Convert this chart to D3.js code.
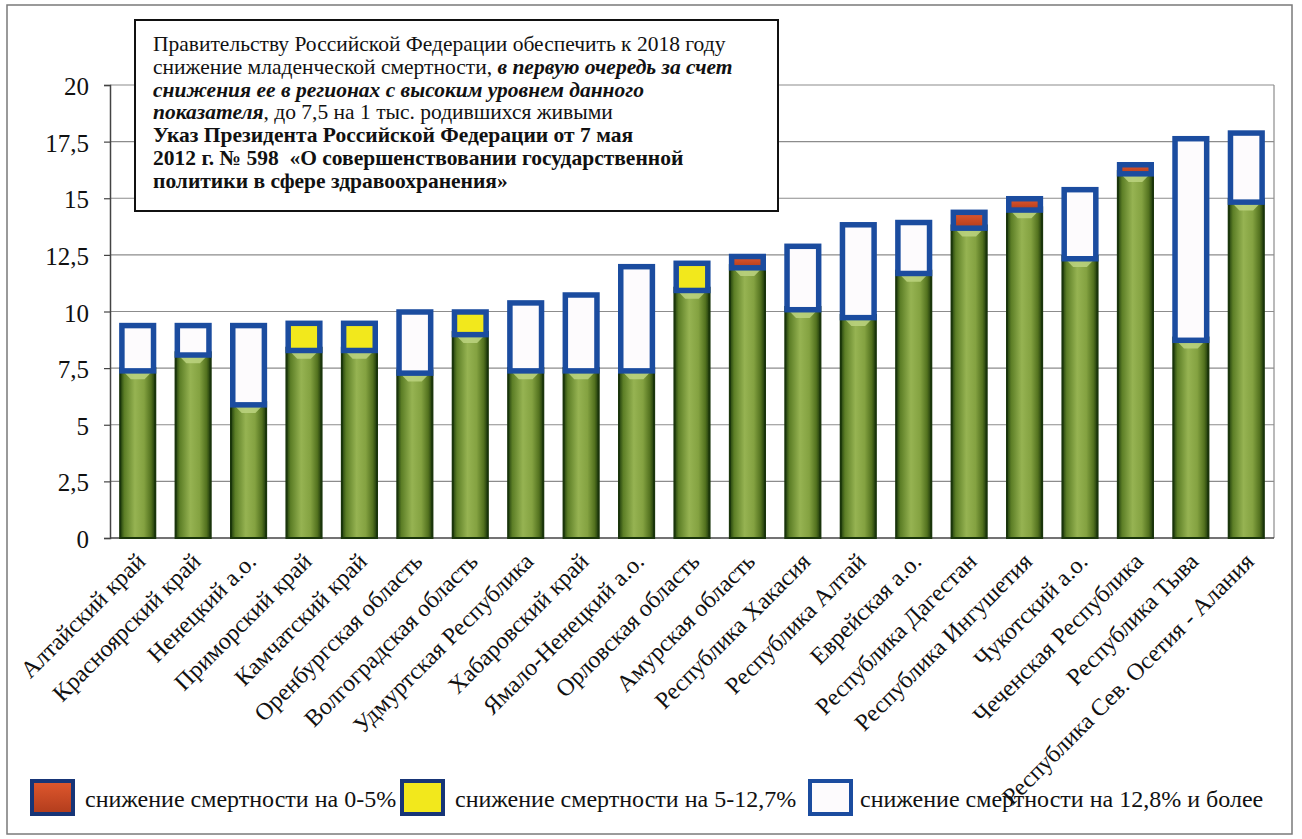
<!DOCTYPE html>
<html>
<head>
<meta charset="utf-8">
<script src="https://cdn.jsdelivr.net/npm/d3@7/dist/d3.min.js"></script>
<style>
  html, body { margin: 0; padding: 0; background: #ffffff; }
  svg { display: block; }
  svg text { font-family: "Liberation Serif", "Times New Roman", "DejaVu Serif", serif; fill: #111; }
</style>
</head>
<body>
<svg id="chart" width="1302" height="839"></svg>
<script>
// ---------------- DATA ----------------
const categories = [
  "Алтайский край", "Красноярский край", "Ненецкий а.о.", "Приморский край",
  "Камчатский край", "Оренбургская область", "Волгоградская область",
  "Удмуртская Республика", "Хабаровский край", "Ямало-Ненецкий а.о.",
  "Орловская область", "Амурская область", "Республика Хакасия",
  "Республика Алтай", "Еврейская а.о.", "Республика Дагестан",
  "Республика Ингушетия", "Чукотский а.о.", "Чеченская Республика",
  "Республика Тыва", "Республика Сев. Осетия - Алания"
];
// target level (green part of the bar)
const targetValues = [7.5, 8.2, 6.0, 8.4, 8.4, 7.4, 9.1, 7.5, 7.5, 7.5,
  11.05, 12.05, 10.2, 9.85, 11.8, 13.8, 14.6, 12.45, 16.2, 8.85, 14.95];
// current level (top of the bar)
const currentValues = [9.5, 9.5, 9.5, 9.6, 9.6, 10.1, 10.1, 10.5, 10.85, 12.1,
  12.25, 12.55, 13.0, 13.95, 14.05, 14.5, 15.1, 15.5, 16.6, 17.75, 18.0];
// reduction group of the top part
const reductionGroup = ["high", "high", "high", "mid", "mid", "high", "mid", "high", "high", "high",
  "mid", "low", "high", "high", "high", "low", "low", "high", "low", "high", "high"];

const yTickValues = [0, 2.5, 5, 7.5, 10, 12.5, 15, 17.5, 20];
const yTickLabels = ["0", "2,5", "5", "7,5", "10", "12,5", "15", "17,5", "20"];

const legendKeys = ["low", "mid", "high"];
const legendLabels = [
  "снижение смертности на 0-5%",
  "снижение смертности на 5-12,7%",
  "снижение смертности на 12,8% и более"
];

// annotation lines: runs of [text, style]  (n = normal, bi = bold italic, b = bold)
const noteLines = [
  [["Правительству Российской Федерации обеспечить к 2018 году", "n"]],
  [["снижение младенческой смертности, ", "n"], ["в первую очередь за счет", "bi"]],
  [["снижения ее в регионах с высоким уровнем данного", "bi"]],
  [["показателя", "bi"], [", до 7,5 на 1 тыс. родившихся живыми", "n"]],
  [["Указ Президента Российской Федерации от 7 мая", "b"]],
  [["2012 г. № 598\u00a0 «О совершенствовании государственной", "b"]],
  [["политики в сфере здравоохранения»", "b"]]
];

// ---------------- DRAW ----------------
const svg = d3.select("#chart");

const plot = { left: 110, right: 1274, top: 85, bottom: 538 };

const x = d3.scaleBand().domain(categories)
  .range([plot.left, plot.right]).paddingInner(0.33).paddingOuter(0.165);
const y = d3.scaleLinear().domain([0, 20]).range([plot.bottom, plot.top]);

const fillFor = { low: "url(#redFill)", mid: "#f2e81c", high: "#fdfbfd" };

// defs
const defs = svg.append("defs");
const g1 = defs.append("linearGradient").attr("id", "greenFill")
  .attr("x1", "0%").attr("x2", "100%").attr("y1", "0%").attr("y2", "0%");
[[0, "#1f3d0c"], [0.12, "#5c7e26"], [0.42, "#96b352"], [0.68, "#84a241"], [0.88, "#53721f"], [1, "#1b360a"]]
  .forEach(s => g1.append("stop").attr("offset", s[0]).attr("stop-color", s[1]));
const g2 = defs.append("linearGradient").attr("id", "redFill")
  .attr("x1", "0%").attr("x2", "0%").attr("y1", "0%").attr("y2", "100%");
[[0, "#e0582e"], [1, "#b13c1c"]]
  .forEach(s => g2.append("stop").attr("offset", s[0]).attr("stop-color", s[1]));

// outer frame
svg.append("rect").attr("x", 7).attr("y", 5).attr("width", 1285).attr("height", 829)
  .attr("fill", "#ffffff").attr("stroke", "#7a7a7a").attr("stroke-width", 1.5);

// gridlines
svg.append("g").selectAll("line").data(yTickValues.slice(1)).join("line")
  .attr("x1", plot.left).attr("x2", plot.right)
  .attr("y1", d => y(d)).attr("y2", d => y(d))
  .attr("stroke", "#8c8c8c").attr("stroke-width", 1.2);
// right border of the plot area
svg.append("line").attr("x1", plot.right).attr("x2", plot.right)
  .attr("y1", plot.top).attr("y2", plot.bottom)
  .attr("stroke", "#8c8c8c").attr("stroke-width", 1.2);

// y axis
const yAxis = d3.axisLeft(y).tickValues(yTickValues)
  .tickFormat((d, i) => yTickLabels[i]).tickSize(6).tickPadding(15);
const ya = svg.append("g").attr("transform", `translate(${plot.left},0)`).call(yAxis);
ya.attr("font-family", null).attr("font-size", null);
ya.select(".domain").attr("stroke", "#444").attr("stroke-width", 1.5);
ya.selectAll(".tick line").attr("stroke", "#444").attr("stroke-width", 1.2);
ya.selectAll(".tick text").attr("font-size", 25).attr("dy", "0.38em");

// x axis baseline
svg.append("line").attr("x1", plot.left).attr("x2", plot.right)
  .attr("y1", plot.bottom).attr("y2", plot.bottom)
  .attr("stroke", "#444").attr("stroke-width", 1.5);

// bars
const bw = x.bandwidth();
const rows = categories.map((c, i) => ({ c, t: targetValues[i], v: currentValues[i], g: reductionGroup[i] }));

const bars = svg.append("g");
// green target part
bars.selectAll("rect.green").data(rows).join("rect").attr("class", "green")
  .attr("x", d => x(d.c) + 1).attr("width", bw - 2)
  .attr("y", d => y(d.t)).attr("height", d => y(0) - y(d.t))
  .attr("fill", "url(#greenFill)").attr("stroke", "#1a350b").attr("stroke-width", 2);
// bevel highlight on top of the green part
bars.selectAll("polygon.bevel").data(rows).join("polygon").attr("class", "bevel")
  .attr("points", d => {
    const x0 = x(d.c) + 3, x1 = x(d.c) + bw - 3, yy = y(d.t) + 2;
    return `${x0},${yy} ${x1},${yy} ${x0 + (x1 - x0) * 0.72},${yy + 9} ${x0 + (x1 - x0) * 0.28},${yy + 9}`;
  })
  .attr("fill", "#bcd480").attr("opacity", 0.85);
// top (reduction) part
const sw = 5.5;
bars.selectAll("rect.top").data(rows).join("rect").attr("class", "top")
  .attr("x", d => x(d.c) + sw / 2).attr("width", bw - sw)
  .attr("y", d => y(d.v) + sw / 2).attr("height", d => Math.max(0.5, y(d.t) - y(d.v)))
  .attr("fill", d => fillFor[d.g]).attr("stroke", "#1b4c9f").attr("stroke-width", sw);

// x labels
svg.append("g").selectAll("text").data(categories).join("text")
  .attr("transform", d => `translate(${x(d) + bw / 2 + 9},${plot.bottom + 25}) rotate(-45)`)
  .attr("text-anchor", "end")
  .attr("font-size", 24)
  .text(d => d);

// annotation box
svg.append("rect").attr("x", 135).attr("y", 20).attr("width", 643).attr("height", 191)
  .attr("fill", "#ffffff").attr("stroke", "#111").attr("stroke-width", 2);
const note = svg.append("text").attr("font-size", 21.5);
noteLines.forEach((runs, li) => {
  runs.forEach((r, ri) => {
    const ts = note.append("tspan").text(r[0])
      .attr("font-weight", r[1] === "n" ? "normal" : "bold")
      .attr("font-style", r[1] === "bi" ? "italic" : "normal");
    if (ri === 0) ts.attr("x", 153).attr("y", 51 + li * 22.8);
  });
});

// legend
const legendX = [30, 400, 808];
const legendTextX = [85, 455, 860];
const lg = svg.append("g");
legendKeys.forEach((k, i) => {
  lg.append("rect").attr("x", legendX[i] + 2).attr("y", 781).attr("width", 41).attr("height", 33)
    .attr("fill", fillFor[k])
    .attr("stroke", k === "high" ? "#1b4c9f" : "#173577").attr("stroke-width", 4);
  lg.append("text").attr("x", legendTextX[i]).attr("y", 807)
    .attr("font-size", 24)
    .text(legendLabels[i]);
});
</script>
</body>
</html>
